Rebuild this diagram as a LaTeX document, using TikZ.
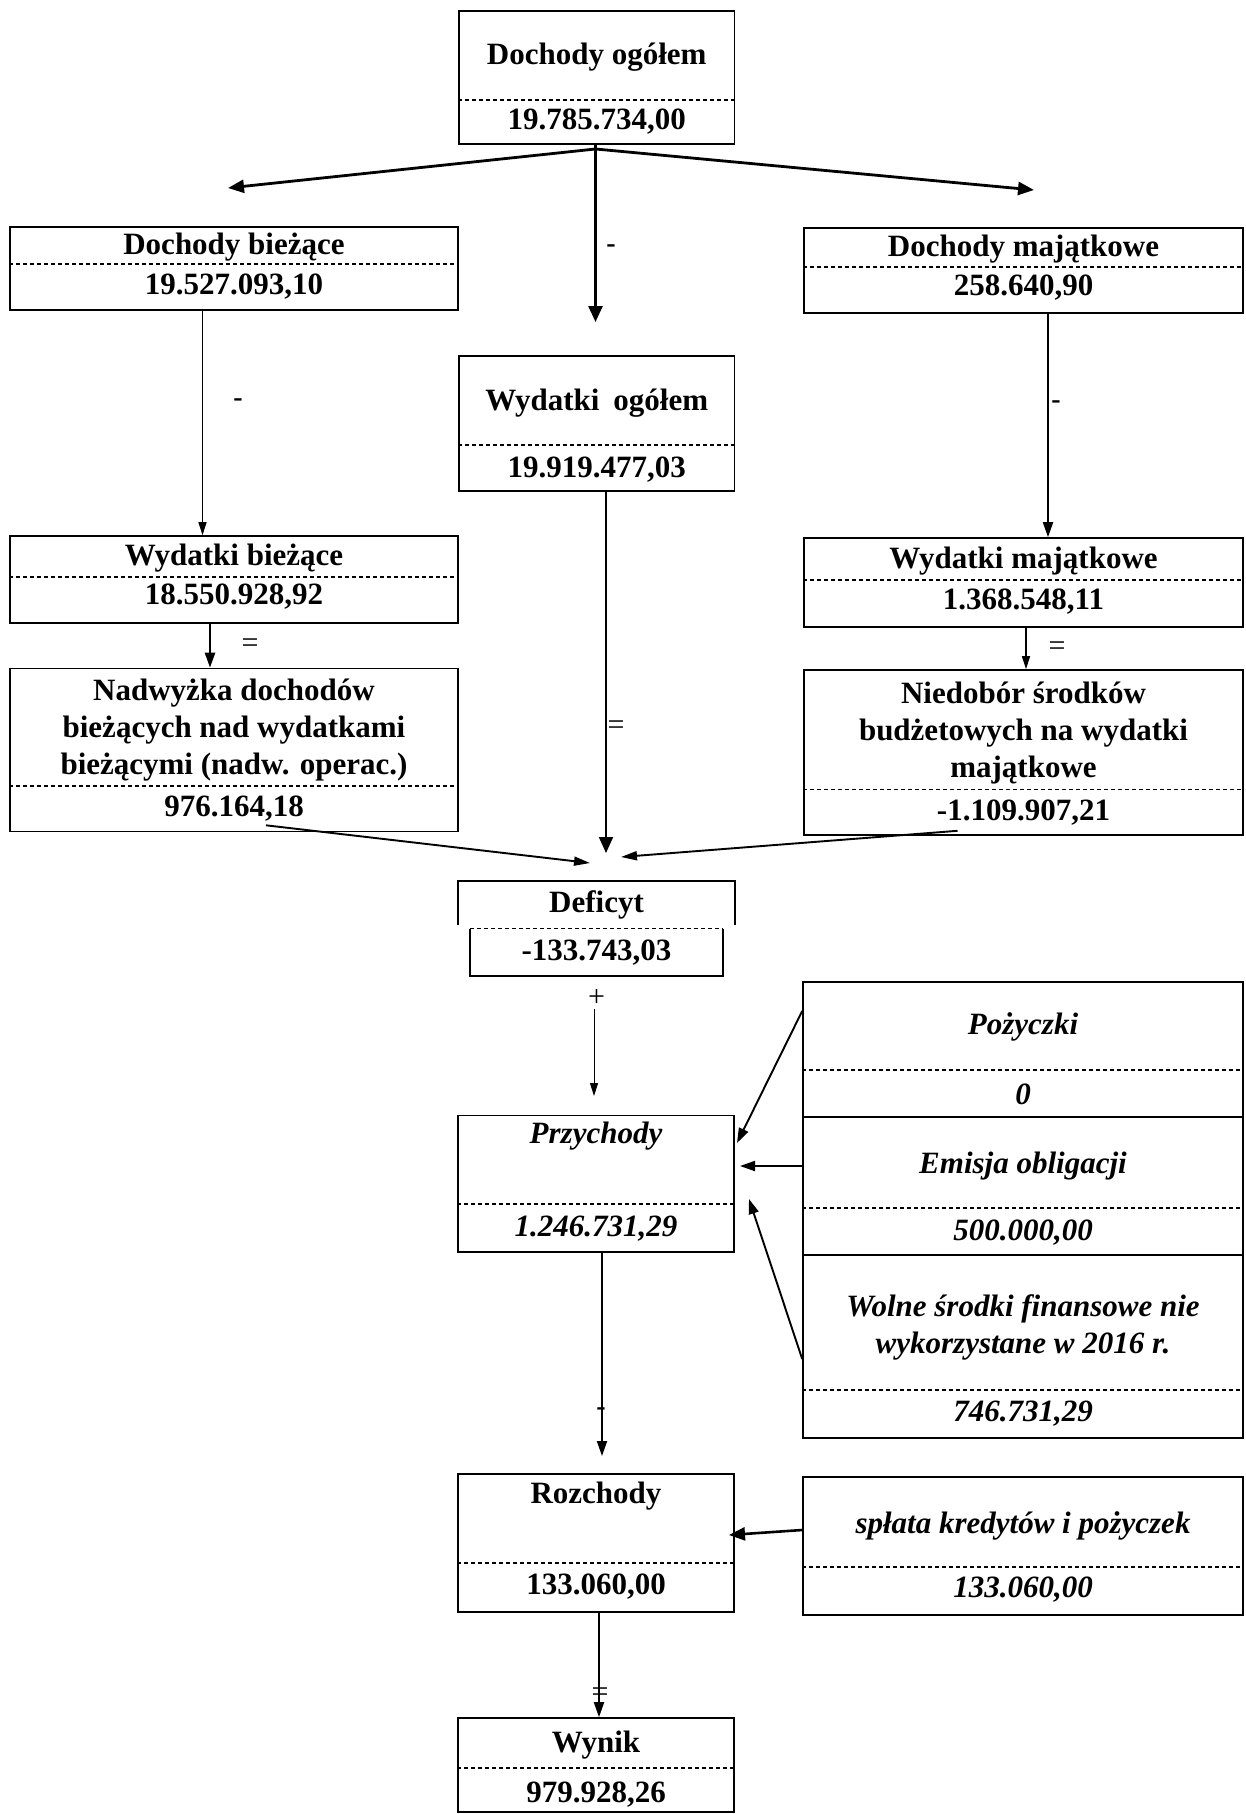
\documentclass[tikz,border=0pt]{standalone}
\usepackage{fontspec}
\setmainfont{Liberation Serif}
\usetikzlibrary{arrows.meta}
\begin{document}
\begin{tikzpicture}[x=1pt,y=-1pt,
  box/.style={draw, line width=1.6pt, inner sep=0pt},
  hid/.style={inner sep=0pt},
  txt/.style={font=\fontsize{31}{37}\selectfont\bfseries, inner sep=0pt, align=center},
  itxt/.style={font=\fontsize{31}{37}\selectfont\bfseries\itshape, inner sep=0pt, align=center},
  lbl/.style={font=\fontsize{28}{32}\selectfont\bfseries, inner sep=0pt},
  plbl/.style={font=\fontsize{30}{32}\selectfont, inner sep=0pt},
  sep/.style={dash pattern=on 4pt off 3pt, line width=1.3pt},
  bigarr/.style={-{Triangle[length=16pt,width=13pt]}, line width=2.8pt},
  midarr/.style={-{Triangle[length=16pt,width=14pt]}, line width=2.4pt},
  arr/.style={-{Triangle[length=15pt,width=10pt]}, line width=1.9pt},
  convarr/.style={-{Triangle[length=16pt,width=9pt]}, line width=1.9pt},
  thinarr/.style={-{Triangle[length=13pt,width=8pt]}, line width=1.3pt}]
\useasboundingbox (0,0) rectangle (1245,1814);
\fill[white] (0,0) rectangle (1245,1814);

% ---- boxes ----
\node[box, minimum width=275.5pt, minimum height=133pt] (dog) at (596.75,77.5) {};
\node[box, minimum width=448pt, minimum height=83pt] (dbi) at (234,268.5) {};
\node[box, minimum width=439pt, minimum height=85pt] (dma) at (1023.5,270.5) {};
\node[box, minimum width=275.5pt, minimum height=135pt] (wog) at (596.75,423.5) {};
\node[box, minimum width=448pt, minimum height=87pt] (wbi) at (234,579.5) {};
\node[box, minimum width=439pt, minimum height=89pt] (wma) at (1023.5,582.5) {};
\node[box, minimum width=448pt, minimum height=163pt] (nad) at (234,750) {};
\node[box, minimum width=439pt, minimum height=165pt] (nie) at (1023.5,752.5) {};
\node[hid, minimum width=277pt, minimum height=44pt] (defo) at (596.5,903) {};
\node[hid, minimum width=253pt, minimum height=46.5pt] (def) at (596.5,952.25) {};
\node[box, minimum width=276pt, minimum height=136.4pt] (prz) at (596,1183.8) {};
\node[box, minimum width=440pt, minimum height=135.3pt] (poz) at (1023,1049.35) {};
\node[box, minimum width=440pt, minimum height=138pt] (emi) at (1023,1186) {};
\node[box, minimum width=440pt, minimum height=183pt] (wol) at (1023,1346.5) {};
\node[box, minimum width=276pt, minimum height=138pt] (roz) at (596,1543) {};
\node[box, minimum width=440pt, minimum height=138pt] (spl) at (1023,1546) {};
\node[box, minimum width=276pt, minimum height=94pt] (wyn) at (596,1765) {};

% Deficyt outlines
\draw[line width=1.6pt] (defo.south west) -- (defo.north west) -- (defo.north east) -- (defo.south east);
\draw[line width=1.6pt] (def.north west) -- (def.south west) -- (def.south east) -- (def.north east);
\draw[sep] (def.north west) -- (def.north east);

% ---- dashed separators ----
\draw[sep] (dog.west |- 0,100) -- (dog.east |- 0,100);
\draw[sep] (dbi.west |- 0,264) -- (dbi.east |- 0,264);
\draw[sep] (dma.west |- 0,267) -- (dma.east |- 0,267);
\draw[sep] (wog.west |- 0,445) -- (wog.east |- 0,445);
\draw[sep] (wbi.west |- 0,577) -- (wbi.east |- 0,577);
\draw[sep] (wma.west |- 0,580) -- (wma.east |- 0,580);
\draw[sep] (nad.west |- 0,786) -- (nad.east |- 0,786);
\draw[sep] (nie.west |- 0,789.5) -- (nie.east |- 0,789.5);
\draw[sep] (prz.west |- 0,1204) -- (prz.east |- 0,1204);
\draw[sep] (poz.west |- 0,1070) -- (poz.east |- 0,1070);
\draw[sep] (emi.west |- 0,1208) -- (emi.east |- 0,1208);
\draw[sep] (wol.west |- 0,1390) -- (wol.east |- 0,1390);
\draw[sep] (roz.west |- 0,1563) -- (roz.east |- 0,1563);
\draw[sep] (spl.west |- 0,1567) -- (spl.east |- 0,1567);
\draw[sep] (wyn.west |- 0,1768) -- (wyn.east |- 0,1768);

% ---- texts ----
\node[txt] (dogT) at (596.75,57) {Dochody ogółem};
\node[txt] (dogN) at (596.75,122) {19.785.734,00};
\node[txt] (dbiT) at (234,247) {Dochody bieżące};
\node[txt] (dbiN) at (234,287) {19.527.093,10};
\node[txt] (dmaT) at (1023.5,249) {Dochody majątkowe};
\node[txt] (dmaN) at (1023.5,288) {258.640,90};
\node[txt] (wogT) at (596.75,403) {Wydatki\hspace{0.45em}ogółem};
\node[txt] (wogN) at (596.75,470) {19.919.477,03};
\node[txt] (wbiT) at (234,558) {Wydatki bieżące};
\node[txt] (wbiN) at (234,597) {18.550.928,92};
\node[txt] (wmaT) at (1023.5,561) {Wydatki majątkowe};
\node[txt] (wmaN) at (1023.5,602) {1.368.548,11};
\node[txt] (nadT) at (234,730) {Nadwyżka dochodów\\bieżących nad wydatkami\\bieżącymi (nadw. operac.)};
\node[txt] (nadN) at (234,809) {976.164,18};
\node[txt] (nieT) at (1023.5,733) {Niedobór środków\\budżetowych na wydatki\\majątkowe};
\node[txt] (nieN) at (1023.5,813) {-1.109.907,21};
\node[txt] (defT) at (596.5,905) {Deficyt};
\node[txt] (defN) at (596.5,953) {-133.743,03};
\node[itxt] (przT) at (596,1136) {Przychody};
\node[itxt] (przN) at (596,1229) {1.246.731,29};
\node[itxt] (pozT) at (1023,1027) {Pożyczki};
\node[itxt] (pozN) at (1023,1094) {0};
\node[itxt] (emiT) at (1023,1166) {Emisja obligacji};
\node[itxt] (emiN) at (1023,1233) {500.000,00};
\node[itxt] (wolT) at (1023,1327) {Wolne środki finansowe nie\\wykorzystane w 2016 r.};
\node[itxt] (wolN) at (1023,1414) {746.731,29};
\node[txt] (rozT) at (596,1496) {Rozchody};
\node[txt] (rozN) at (596,1587) {133.060,00};
\node[itxt] (splT) at (1023,1526) {spłata kredytów i pożyczek};
\node[itxt] (splN) at (1023,1590) {133.060,00};
\node[txt] (wynT) at (596,1745) {Wynik};
\node[txt] (wynN) at (596,1795) {979.928,26};

% ---- connector coordinates ----
\coordinate (split) at (595.5,149);
\coordinate (endL) at (228,188);
\coordinate (endR) at (1034,190);
\coordinate (endM) at (595.5,322);
\coordinate (meet) at (606,853);
\coordinate (meetL) at (590,863);
\coordinate (meetR) at (621,857);
\coordinate (plusEnd) at (594,1096);
\coordinate (rozIn) at (602,1456);

% ---- connectors ----
\draw[bigarr] (split) -- (endL);
\draw[bigarr] (split) -- (endR);
\draw[midarr] (dog.south -| split) -- (endM);
\node[lbl] (m1) at (611,249) {-};

\draw[thinarr] (dbi.south -| 202.5,0) -- (wbi.north -| 202.5,0);
\node[lbl] (m2) at (238,403) {-};
\draw[arr] (dma.south -| 1048,0) -- (wma.north -| 1048,0);
\node[lbl] (m3) at (1056,405) {-};

\draw[arr, line width=2.4pt] (wbi.south -| 210,0) -- (nad.north -| 210,0);
\node[plbl] (e1) at (250,646) {=};
\draw[thinarr] (wma.south -| 1026,0) -- (nie.north -| 1026,0);
\node[plbl] (e2) at (1057,649) {=};

\draw[midarr, line width=2pt] (wog.south -| meet) -- (meet);
\node[plbl] (e3) at (616,728) {=};
\draw[convarr] ([xshift=32pt,yshift=7pt]nad.south) -- (meetL);
\draw[convarr] ([xshift=-66pt,yshift=5pt]nie.south) -- (meetR);

\node[plbl] (p1) at (596.5,998) {+};
\draw[thinarr, line width=1pt] (594,1009) -- (plusEnd);

\draw[arr] (poz.west |- 0,1011) -- (737,1143);
\draw[arr] (emi.west |- 0,1166) -- (740,1166);
\draw[arr] (wol.west |- 0,1359) -- (749,1199);

\draw[arr] (prz.south -| rozIn) -- (rozIn);
\node[lbl] (m4) at (601,1412) {-};
\draw[bigarr, line width=2.6pt] (spl.west |- 0,1530) -- (729,1535);
\draw[arr] (roz.south -| 599,0) -- (wyn.north -| 599,0);
\node[plbl] (e4) at (600,1695) {=};
\end{tikzpicture}
\end{document}
